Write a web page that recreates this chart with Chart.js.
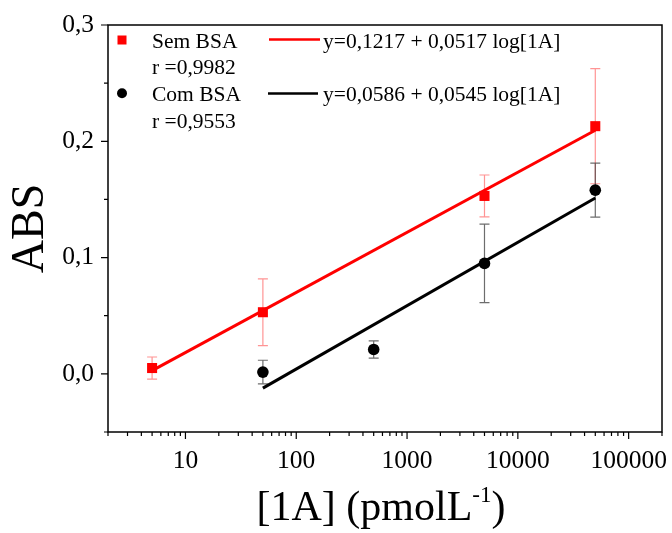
<!DOCTYPE html>
<html>
<head>
<meta charset="utf-8">
<script src="https://cdn.jsdelivr.net/npm/chart.js@4/dist/chart.umd.min.js"></script>
<style>
  html, body { margin: 0; padding: 0; background: #fff; }
  #wrap { width: 672px; height: 533px; position: relative; }
</style>
</head>
<body>
<div id="wrap"><canvas id="absChart"></canvas></div>
<script>
// Absorbance vs [1A] concentration (pmol/L), with and without BSA
const concSem = [5, 50, 5000, 50000];
const absSem = [0.005, 0.053, 0.153, 0.213];
const errSem = [0.0095, 0.0287, 0.018, 0.0495];

const concCom = [50, 500, 5000, 50000];
const absCom = [0.0015, 0.021, 0.095, 0.158];
const errCom = [0.0102, 0.0074, 0.0338, 0.0232];

// linear fits in log[1A] (concentration in nmol/L inside the log)
const fitSem = { intercept: 0.1217, slope: 0.0517 };
const fitCom = { intercept: 0.0586, slope: 0.0545 };
const fitSemRange = [5, 50000];
const fitComRange = [50, 50000];

const xTickValues = [10, 100, 1000, 10000, 100000];
const yTickValues = [0, 0.1, 0.2, 0.3];
const yMinorValues = [-0.05, 0.05, 0.15, 0.25];

const legendLabels = ['Sem BSA', 'r =0,9982', 'Com BSA', 'r =0,9553'];
const equationLabels = ['y=0,1217 + 0,0517 log[1A]', 'y=0,0586 + 0,0545 log[1A]'];

const SERIF = '"Liberation Serif", "Times New Roman", serif';
const RED = 'rgb(255, 0, 0)';

function fitLine(fit, range) {
  return range.map(c => ({ x: c, y: fit.intercept + fit.slope * Math.log10(c / 1000) }));
}

function toPoints(xs, ys) {
  return xs.map((x, i) => ({ x: x, y: ys[i] }));
}

// error bars go underneath the markers
const errorBars = {
  id: 'errorBars',
  beforeDatasetsDraw(chart) {
    const { ctx, scales: { x, y } } = chart;
    const groups = [
      { xs: concSem, ys: absSem, es: errSem, color: 'rgba(255, 60, 60, 0.55)' },
      { xs: concCom, ys: absCom, es: errCom, color: 'rgba(60, 60, 60, 0.75)' }
    ];
    ctx.save();
    ctx.lineWidth = 1.2;
    groups.forEach(g => {
      ctx.strokeStyle = g.color;
      g.xs.forEach((c, i) => {
        const px = x.getPixelForValue(c);
        const top = y.getPixelForValue(g.ys[i] + g.es[i]);
        const bot = y.getPixelForValue(g.ys[i] - g.es[i]);
        ctx.beginPath();
        ctx.moveTo(px, top); ctx.lineTo(px, bot);
        ctx.moveTo(px - 5, top); ctx.lineTo(px + 5, top);
        ctx.moveTo(px - 5, bot); ctx.lineTo(px + 5, bot);
        ctx.stroke();
      });
    });
    ctx.restore();
  }
};

// box frame, outward ticks, legend block and axis titles
const decorations = {
  id: 'decorations',
  afterDraw(chart) {
    const { ctx, chartArea: a, scales: { x, y } } = chart;
    ctx.save();
    ctx.strokeStyle = '#000';
    ctx.lineWidth = 1.5;
    ctx.strokeRect(a.left, a.top, a.right - a.left, a.bottom - a.top);

    ctx.lineWidth = 1.2;
    ctx.beginPath();
    yTickValues.forEach(v => {
      const py = y.getPixelForValue(v);
      ctx.moveTo(a.left - 7, py); ctx.lineTo(a.left, py);
    });
    yMinorValues.forEach(v => {
      const py = y.getPixelForValue(v);
      ctx.moveTo(a.left - 4, py); ctx.lineTo(a.left, py);
    });
    for (let d = 1; d <= 100000; d *= 10) {
      for (let m = 1; m <= 9; m++) {
        const v = d * m;
        if (v < x.min || v > x.max) continue;
        const px = x.getPixelForValue(v);
        const len = m === 1 ? 7 : 4;
        ctx.moveTo(px, a.bottom); ctx.lineTo(px, a.bottom + len);
      }
    }
    ctx.stroke();

    // legend
    const lx = a.left + 14;
    ctx.fillStyle = RED;
    ctx.fillRect(lx - 4.5, 35.5, 9, 9);
    ctx.fillStyle = '#000';
    ctx.beginPath();
    ctx.arc(lx, 93.3, 5, 0, Math.PI * 2);
    ctx.fill();

    ctx.font = '21.5px ' + SERIF;
    ctx.textBaseline = 'alphabetic';
    ctx.textAlign = 'left';
    ctx.fillText(legendLabels[0], 152, 47.5);
    ctx.fillText(legendLabels[1], 152, 74);
    ctx.fillText(legendLabels[2], 152, 101);
    ctx.fillText(legendLabels[3], 152, 127.5);

    ctx.lineWidth = 2.5;
    ctx.strokeStyle = RED;
    ctx.beginPath(); ctx.moveTo(269, 39.5); ctx.lineTo(320, 39.5); ctx.stroke();
    ctx.strokeStyle = '#000';
    ctx.beginPath(); ctx.moveTo(268, 93.5); ctx.lineTo(318, 93.5); ctx.stroke();
    ctx.fillText(equationLabels[0], 323, 47.5);
    ctx.fillText(equationLabels[1], 323, 101);

    // y title
    ctx.save();
    ctx.translate(28 + 15, (a.top + a.bottom) / 2);
    ctx.rotate(-Math.PI / 2);
    ctx.font = '46px ' + SERIF;
    ctx.textAlign = 'center';
    ctx.textBaseline = 'alphabetic';
    ctx.fillText('ABS', 0, 0);
    ctx.restore();

    // x title with superscript
    const big = '42px ' + SERIF, small = '23px ' + SERIF;
    const t1 = '[1A] (pmolL', sup = '-1', t2 = ')';
    ctx.font = big; const w1 = ctx.measureText(t1).width, w3 = ctx.measureText(t2).width;
    ctx.font = small; const w2 = ctx.measureText(sup).width;
    let tx = 381 - (w1 + w2 + w3) / 2;
    const base = 520;
    ctx.font = big; ctx.fillText(t1, tx, base); tx += w1;
    ctx.font = small; ctx.fillText(sup, tx, base - 18); tx += w2;
    ctx.font = big; ctx.fillText(t2, tx, base);
    ctx.restore();
  }
};

new Chart(document.getElementById('absChart'), {
  type: 'scatter',
  data: {
    datasets: [
      {
        label: 'Sem BSA',
        data: toPoints(concSem, absSem),
        pointStyle: 'rect',
        pointRadius: 7.1,
        backgroundColor: RED,
        borderColor: RED,
        borderWidth: 0,
        order: 0
      },
      {
        label: 'Com BSA',
        data: toPoints(concCom, absCom),
        pointStyle: 'circle',
        pointRadius: 5.8,
        backgroundColor: '#000',
        borderColor: '#000',
        borderWidth: 0,
        order: 0
      },
      {
        label: 'Fit Sem BSA',
        data: fitLine(fitSem, fitSemRange),
        showLine: true,
        pointRadius: 0,
        borderColor: RED,
        borderWidth: 3,
        order: 1
      },
      {
        label: 'Fit Com BSA',
        data: fitLine(fitCom, fitComRange),
        showLine: true,
        pointRadius: 0,
        borderColor: '#000',
        borderWidth: 3,
        order: 1
      }
    ]
  },
  options: {
    responsive: true,
    maintainAspectRatio: false,
    animation: false,
    layout: { padding: { top: 25, right: 10, left: 0, bottom: 0 } },
    plugins: {
      legend: { display: false },
      tooltip: { enabled: false }
    },
    scales: {
      x: {
        type: 'logarithmic',
        min: 2,
        max: 200000,
        grid: { display: false },
        border: { display: false },
        afterBuildTicks: scale => { scale.ticks = xTickValues.map(v => ({ value: v })); },
        afterFit: scale => {
          scale.height = 101;
          scale.paddingLeft = 0;
          scale.paddingRight = 0;
        },
        ticks: {
          autoSkip: false,
          maxRotation: 0,
          padding: 6,
          color: '#000',
          font: { family: SERIF, size: 25.5 },
          callback: value => String(value)
        }
      },
      y: {
        min: -0.05,
        max: 0.3,
        grid: { display: false },
        border: { display: false },
        afterBuildTicks: scale => { scale.ticks = yTickValues.map(v => ({ value: v })); },
        afterFit: scale => {
          scale.width = 108;
          scale.paddingTop = 0;
          scale.paddingBottom = 0;
        },
        ticks: {
          padding: 6,
          color: '#000',
          font: { family: SERIF, size: 25.5 },
          callback: value => value.toFixed(1).replace('.', ',')
        }
      }
    }
  },
  plugins: [errorBars, decorations]
});
</script>
</body>
</html>
